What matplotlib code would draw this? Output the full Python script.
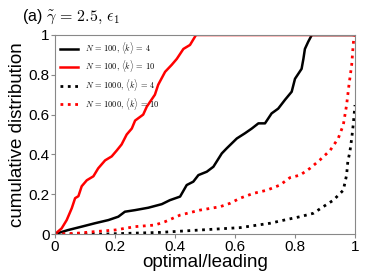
import matplotlib
matplotlib.use("Agg")
import matplotlib.pyplot as plt

plt.rcParams['mathtext.fontset'] = 'cm'
plt.rcParams['font.family'] = ['Liberation Sans', 'DejaVu Sans']

# N=100, <k>=10 (red solid)
x_r100 = [0, 0.022, 0.039, 0.056, 0.067, 0.078, 0.089, 0.106, 0.128, 0.144, 0.167, 0.189, 0.206,
          0.222, 0.239, 0.256, 0.267, 0.294, 0.306, 0.333, 0.344, 0.367, 0.389, 0.406, 0.428, 0.45, 0.47, 1.0]
y_r100 = [0, 0.028, 0.07, 0.13, 0.18, 0.19, 0.24, 0.27, 0.29, 0.33, 0.37, 0.39, 0.42,
          0.45, 0.50, 0.53, 0.57, 0.60, 0.64, 0.70, 0.75, 0.815, 0.85, 0.88, 0.93, 0.95, 1.0, 1.0]

# N=100, <k>=4 (black solid)
x_b100 = [0, 0.044, 0.089, 0.133, 0.178, 0.211, 0.233, 0.267, 0.311, 0.356, 0.383, 0.417, 0.439, 0.461,
          0.478, 0.506, 0.528, 0.556, 0.572, 0.606, 0.633, 0.656, 0.678, 0.70, 0.722, 0.744, 0.767,
          0.789, 0.80, 0.822, 0.828, 0.833, 0.844, 0.856, 1.0]
y_b100 = [0, 0.02, 0.037, 0.054, 0.07, 0.087, 0.112, 0.12, 0.132, 0.15, 0.17, 0.188, 0.246, 0.263,
          0.296, 0.313, 0.338, 0.405, 0.43, 0.48, 0.506, 0.53, 0.556, 0.556, 0.606, 0.63, 0.675,
          0.715, 0.78, 0.83, 0.88, 0.93, 0.966, 1.0, 1.0]

# N=1000, <k>=4 (black dotted)
x_b1000 = [0, 0.167, 0.35, 0.483, 0.617, 0.717, 0.77, 0.817, 0.861, 0.894, 0.928, 0.961, 0.972, 0.976,
           0.983, 0.989, 0.994, 1.0]
y_b1000 = [0, 0.0, 0.008, 0.02, 0.032, 0.054, 0.072, 0.087, 0.104, 0.137, 0.17, 0.22, 0.296, 0.363,
           0.414, 0.48, 0.548, 0.648]

# N=1000, <k>=10 (red dotted)
x_r1000 = [0, 0.067, 0.133, 0.2, 0.267, 0.333, 0.367, 0.417, 0.483, 0.55, 0.583, 0.617, 0.661, 0.706,
           0.75, 0.783, 0.817, 0.85, 0.883, 0.917, 0.944, 0.961, 0.972, 0.98, 0.989, 0.994, 0.997, 1.0]
y_r1000 = [0, 0.003, 0.012, 0.02, 0.037, 0.045, 0.062, 0.095, 0.12, 0.137, 0.154, 0.18, 0.204, 0.22,
           0.246, 0.283, 0.296, 0.33, 0.372, 0.42, 0.48, 0.548, 0.648, 0.75, 0.85, 0.95, 1.0, 1.0]

ticks = [0, 0.2, 0.4, 0.6, 0.8, 1]
tick_labels = ['0', '0.2', '0.4', '0.6', '0.8', '1']

fig = plt.figure(figsize=(3.74, 2.80), dpi=100)
ax = fig.add_axes([55/374, 1 - 234/280, 300/374, 199/280])

ax.plot(x_b100, y_b100, color='black', lw=1.8, label=r'$N\,=\,100,\,\langle k\rangle\,=\,4$')
ax.plot(x_r100, y_r100, color='red', lw=1.8, label=r'$N\,=\,100,\,\langle k\rangle\,=\,10$')
ax.plot(x_b1000, y_b1000, color='black', lw=2, ls=':', label=r'$N\,=\,1000,\,\langle k\rangle\,=\,4$')
ax.plot(x_r1000, y_r1000, color='red', lw=2, ls=':', label=r'$N\,=\,1000,\,\langle k\rangle\,=\,10$')

ax.set_xlim(0, 1)
ax.set_ylim(0, 1)
ax.set_xticks(ticks)
ax.set_xticklabels(tick_labels)
ax.set_yticks(ticks)
ax.set_yticklabels(tick_labels)
ax.tick_params(labelsize=11, length=3, color='#888888', pad=1)
for s in ax.spines.values():
    s.set_color('#888888')
ax.set_xlabel('optimal/leading', fontsize=13.5, labelpad=0)
ax.set_ylabel('cumulative distribution', fontsize=13.5, labelpad=2)
leg = ax.legend(loc='upper left', fontsize=6, frameon=False, handlelength=2.2, handletextpad=0.8,
                borderaxespad=0.2, labelspacing=0.3)

fig.text(22/374, 1 - 17/280, r'(a) $\tilde{\gamma}\,=\,2.5,\,\epsilon_1$', fontsize=11.5,
         va='center', ha='left')

fig.savefig('out.png', dpi=100)
